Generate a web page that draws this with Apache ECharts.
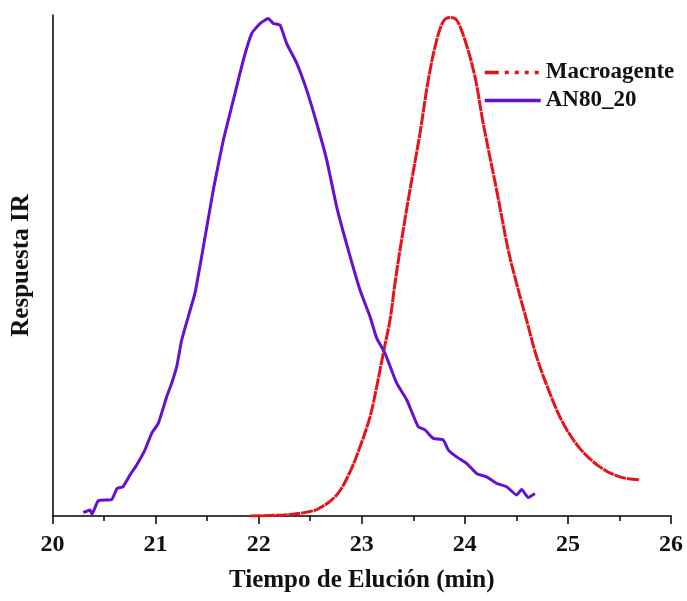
<!DOCTYPE html>
<html>
<head>
<meta charset="utf-8">
<script src="https://cdn.jsdelivr.net/npm/echarts@6/dist/echarts.min.js"></script>
<style>
  html, body { margin: 0; padding: 0; background: #fff; }
  #chart { width: 687px; height: 601px; }
</style>
</head>
<body>
<div id="chart"></div>
<script>
// Elution time (min) and normalised IR response for each sample
const macroTime = [21.916, 22.239, 22.401, 22.575, 22.757, 22.886, 22.983, 23.080, 23.145, 23.209,
  23.274, 23.322, 23.371, 23.451, 23.565, 23.645, 23.727, 23.791, 23.856, 23.920, 24.001, 24.098,
  24.178, 24.308, 24.421, 24.502, 24.599, 24.696, 24.825, 24.954, 25.116, 25.310, 25.504, 25.698];
const macroResp = [0, 0.2, 0.54, 1.4, 4.2, 8.8, 13.8, 19.8, 25.8, 32.5,
  39.1, 46.4, 53.1, 63.1, 76.4, 87.0, 95.0, 98.7, 99.5, 99.0, 95.0, 87.7,
  78.4, 65.1, 53.1, 46.4, 39.1, 31.8, 24.5, 18.5, 13.5, 9.8, 7.8, 7.2];

const anTime = [20.299, 20.364, 20.383, 20.444, 20.574, 20.626, 20.684, 20.752, 20.817, 20.897,
  20.962, 21.026, 21.108, 21.156, 21.205, 21.253, 21.317, 21.382, 21.447, 21.560, 21.657, 21.754,
  21.851, 21.932, 22.013, 22.093, 22.142, 22.207, 22.272, 22.369, 22.466, 22.563, 22.660, 22.757,
  22.869, 22.983, 23.080, 23.145, 23.225, 23.339, 23.436, 23.548, 23.613, 23.694, 23.790, 23.839,
  23.920, 24.017, 24.114, 24.211, 24.308, 24.405, 24.502, 24.551, 24.615, 24.680];
const anResp = [0.66, 1.2, 0.4, 3.05, 3.3, 5.5, 5.85, 8.2, 10.2, 13.2,
  16.5, 18.5, 23.8, 26.5, 29.8, 35.1, 39.8, 44.5, 51.8, 65.1, 75.0, 83.0,
  91.0, 96.3, 98.3, 99.3, 98.3, 98.0, 94.3, 90.4, 85.0, 78.4, 71.1, 61.7,
  53.1, 45.1, 39.8, 35.5, 32.5, 26.5, 23.2, 17.8, 17.2, 15.5, 15.2, 13.2,
  11.8, 10.5, 8.5, 7.8, 6.5, 5.85, 4.2, 5.3, 3.7, 4.5];

const seriesNames = ['Macroagente', 'AN80_20'];
const xTicks = [20, 21, 22, 23, 24, 25, 26];

const RED = '#e5131a';
const PURPLE = '#6510d2';
const FONT = '"Liberation Serif", "Times New Roman", serif';

const zip = (xs, ys) => xs.map((x, i) => [x, ys[i]]);

const chart = echarts.init(document.getElementById('chart'), null, { renderer: 'canvas' });
chart.setOption({
  backgroundColor: '#ffffff',
  animation: false,
  grid: { left: 52.5, right: 16, top: 15, bottom: 85 },
  legend: {
    orient: 'vertical',
    left: 478,
    top: 56,
    itemGap: 5,
    itemWidth: 56,
    itemHeight: 18,
    itemStyle: { opacity: 0 },
    textStyle: { fontFamily: FONT, fontWeight: 'bold', fontSize: 23, color: '#111' },
    data: [
      { name: seriesNames[0],
        lineStyle: { type: [14, 6, 4, 6, 4, 6, 4, 6, 4, 20], width: 3.5 } },
      { name: seriesNames[1],
        lineStyle: { width: 3.5 } }
    ]
  },
  xAxis: {
    type: 'value',
    min: xTicks[0],
    max: xTicks[xTicks.length - 1],
    interval: 1,
    name: 'Tiempo de Elución (min)',
    nameLocation: 'middle',
    nameGap: 52,
    nameTextStyle: { fontFamily: FONT, fontWeight: 'bold', fontSize: 25, color: '#111' },
    axisLine: { show: true, lineStyle: { color: '#000', width: 1.5 } },
    axisTick: { show: true, inside: false, length: 8, lineStyle: { color: '#000', width: 1.5 } },
    minorTick: { show: true, splitNumber: 2, length: 5, lineStyle: { color: '#000', width: 1.5 } },
    axisLabel: { fontFamily: FONT, fontWeight: 'bold', fontSize: 24, color: '#111', margin: 17 },
    splitLine: { show: false }
  },
  yAxis: {
    type: 'value',
    min: 0,
    max: 100,
    name: 'Respuesta IR',
    nameLocation: 'middle',
    nameGap: 18,
    nameRotate: 90,
    nameTextStyle: { fontFamily: FONT, fontWeight: 'bold', fontSize: 25, color: '#111' },
    axisLine: { show: true, lineStyle: { color: '#000', width: 1.5 } },
    axisTick: { show: false },
    axisLabel: { show: false },
    splitLine: { show: false }
  },
  series: [
    {
      name: seriesNames[0],
      type: 'line',
      data: zip(macroTime, macroResp),
      showSymbol: false,
      symbol: 'none',
      smooth: 0.35,
      color: RED,
      lineStyle: { color: RED, width: 3, type: [12, 0.8] }
    },
    {
      name: seriesNames[1],
      type: 'line',
      data: zip(anTime, anResp),
      showSymbol: false,
      symbol: 'none',
      smooth: 0.15,
      color: PURPLE,
      lineStyle: { color: PURPLE, width: 3 }
    }
  ]
});
</script>
</body>
</html>
